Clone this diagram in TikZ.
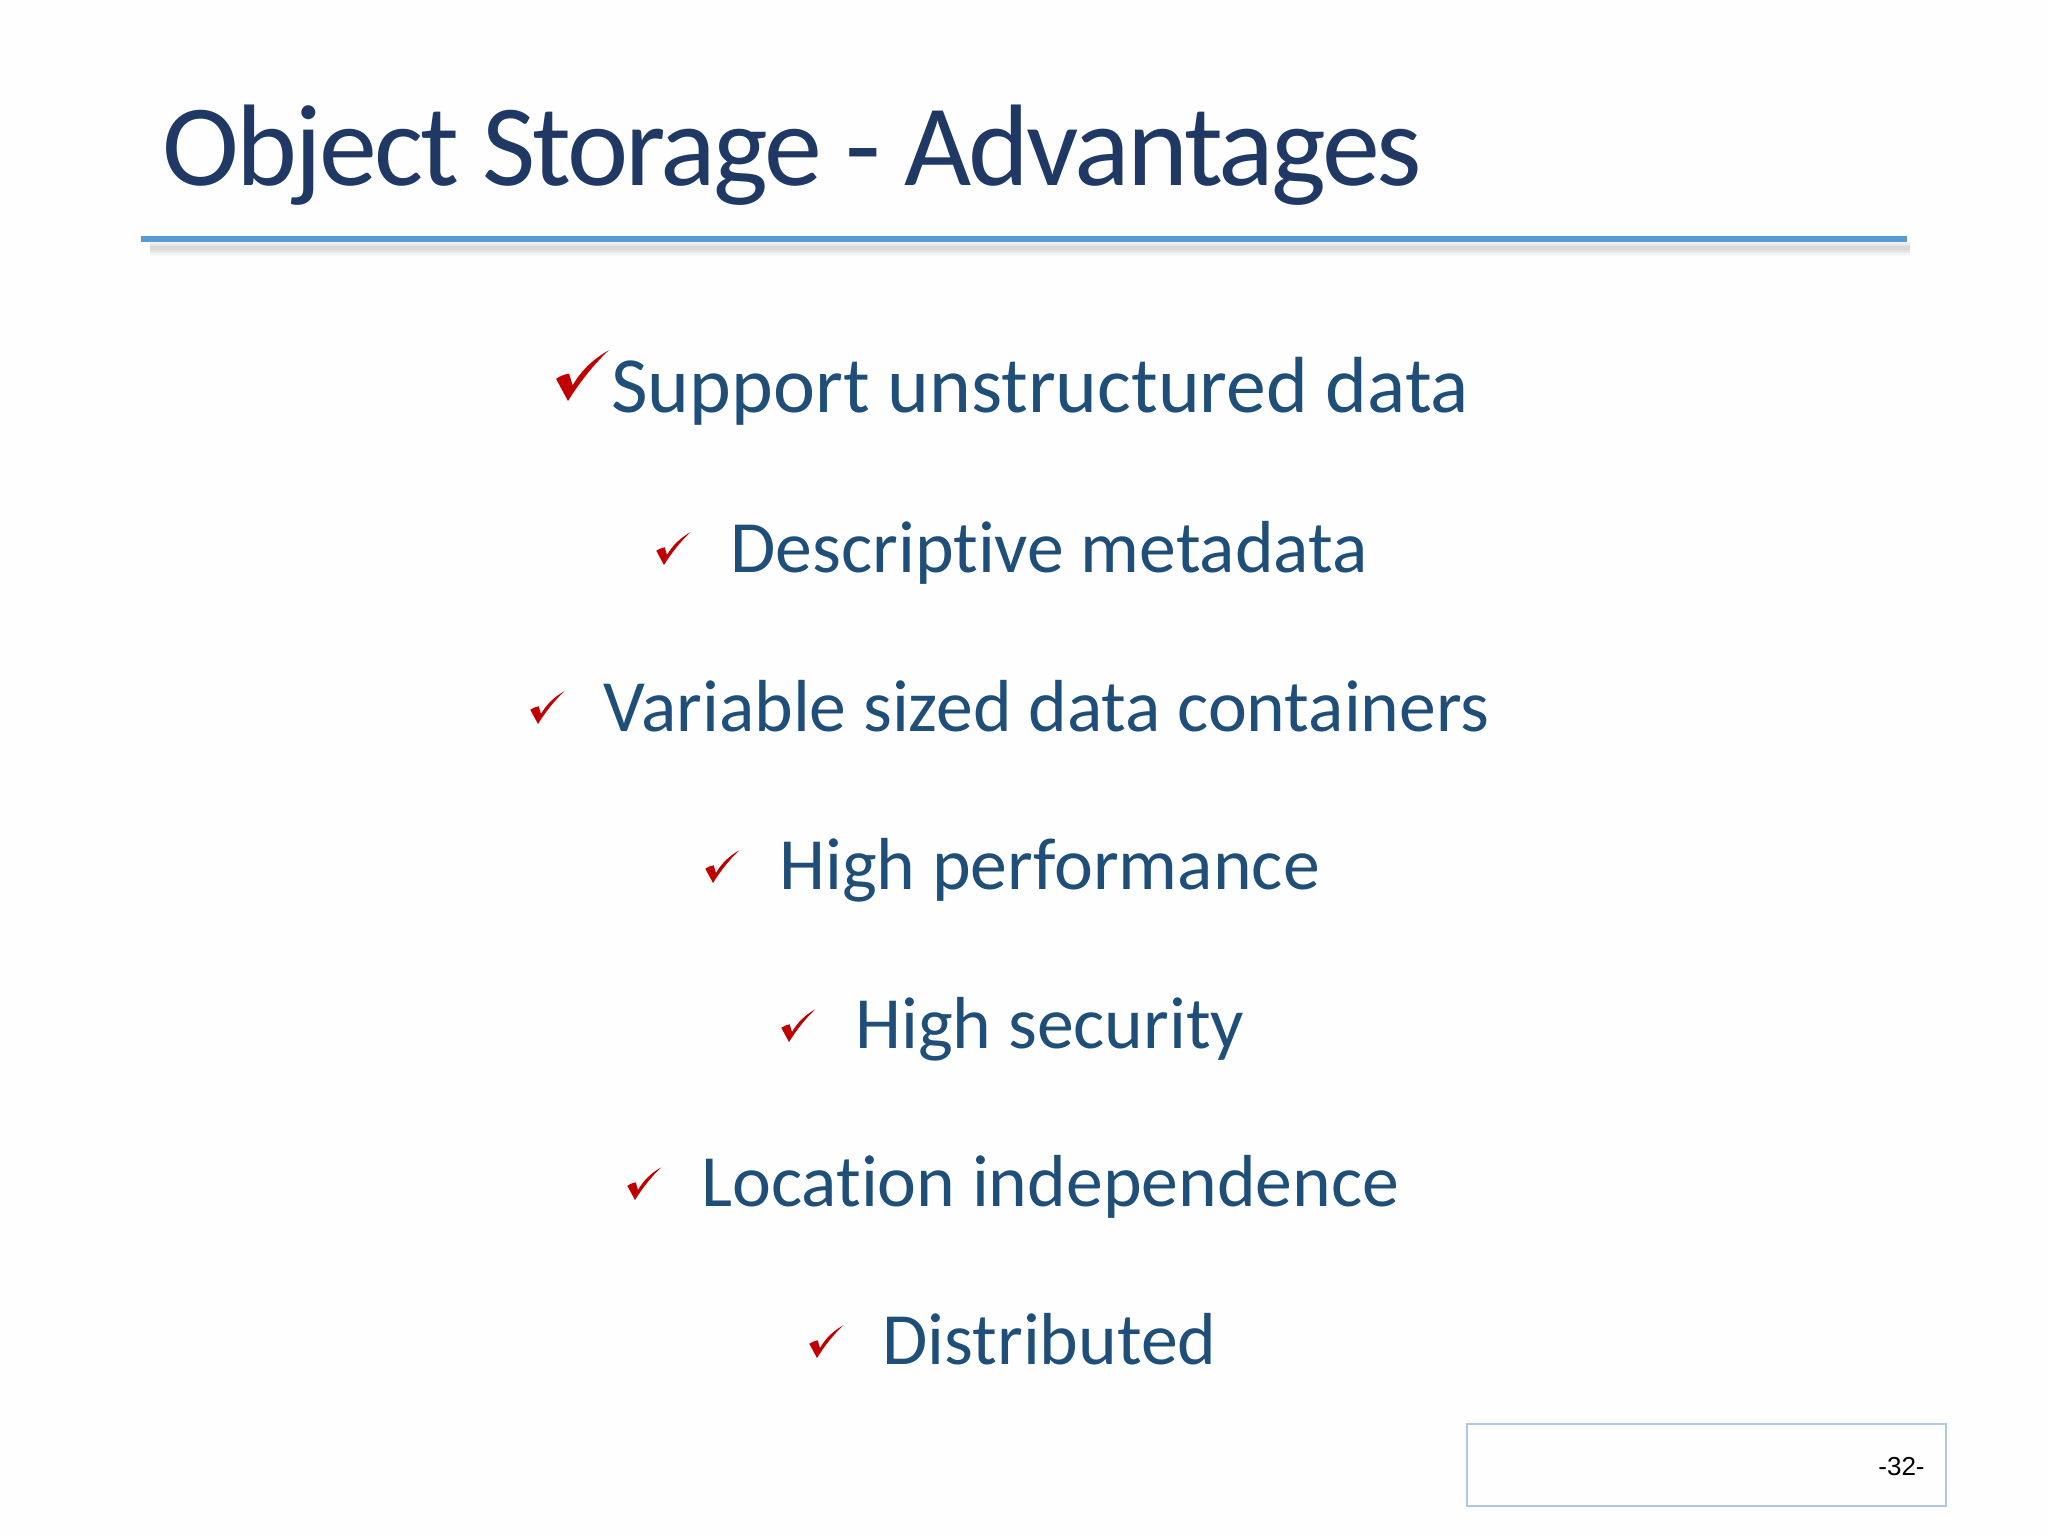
\documentclass[tikz,border=0pt]{standalone}
\usepackage{fontspec}
\setmainfont{Carlito}[Ligatures=NoCommon]
\newfontfamily\titlefont{Carlito}[Ligatures=NoCommon,LetterSpace=-2.5]
\newfontfamily\pagefont{Liberation Sans}
\definecolor{titleblue}{HTML}{1F3864}
\definecolor{bodyblue}{HTML}{1F4E79}
\definecolor{ruleblue}{HTML}{5B9BD5}
\definecolor{boxblue}{HTML}{AFC6E4}
\definecolor{tickred}{HTML}{C00000}
\tikzset{
  x=0.5pt,y=-0.5pt,
  titletext/.style={anchor=base west,inner sep=0pt,text=titleblue,font=\titlefont\fontsize{58}{58}\selectfont},
  itemtext/.style={anchor=base west,inner sep=0pt,text=bodyblue,font=\fontsize{36.85}{36.85}\selectfont},
  leadtext/.style={anchor=base west,inner sep=0pt,text=bodyblue,font=\fontsize{39.8}{39.8}\selectfont},
  pagetext/.style={anchor=base east,inner sep=0pt,text=black,font=\pagefont\fontsize{13}{13}\selectfont},
  tickmark/.pic={
    \fill[tickred] (-7.7,-14.3) .. controls (-5,-16) and (-3,-17) .. (0.7,-17.7)
      -- (3,-10) .. controls (8,-19) and (16,-27) .. (26.3,-32.7)
      .. controls (18,-25) and (8,-13) .. (0,0)
      -- cycle;
  }
}
\begin{document}
\begin{tikzpicture}
\useasboundingbox (0,0) rectangle (2048,1536);
\fill[white!99.5!black] (0,0) rectangle (2048,1536);
\node[titletext] (title) at (162,185) {Object Storage - Advantages};
\foreach \d/\o in {16/.02,13/.025,10/.03,7/.035,4/.04}
  \draw[black,opacity=\o,line width=\d*0.5pt] (150,248) -- (1910,248);
\fill[ruleblue] (141,235.5) rectangle (1907,242);
\node[leadtext] (a) at (611,412.5) {Support unstructured data};
\node[itemtext] (b) at (730,572) {Descriptive metadata};
\node[itemtext] (c) at (603,731) {Variable sized data containers};
\node[itemtext] (d) at (779,889) {High performance};
\node[itemtext] (e) at (855,1048) {High security};
\node[itemtext] (f) at (701,1206) {Location independence};
\node[itemtext] (g) at (882,1364) {Distributed};
\pic[scale=1.55] at (568,401) {tickmark};
\foreach \n/\x/\y in {b/664/565,c/538/724,d/713/883,e/789/1042,f/635/1200,g/817/1358}
  \pic at (\x,\y) {tickmark};
\node[draw=boxblue,line width=1pt,minimum width=239.5pt,minimum height=41pt,inner sep=0pt,anchor=north west] (box) at (1466,1423) {};
\node[pagetext] (num) at (1925,1475) {-32-};
\end{tikzpicture}
\end{document}
